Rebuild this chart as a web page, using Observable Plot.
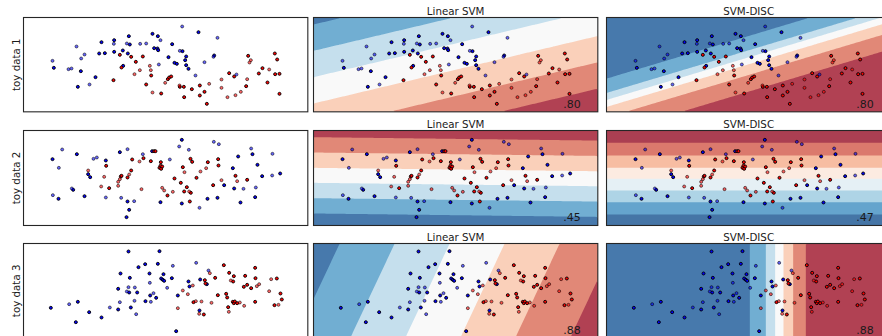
<!DOCTYPE html>
<html><head><meta charset="utf-8">
<script src="https://cdn.jsdelivr.net/npm/d3@7"></script>
<script src="https://cdn.jsdelivr.net/npm/@observablehq/plot@0.6"></script>
<style>
body{margin:0;background:#fff;}
#fig{position:relative;width:882px;height:336px;overflow:hidden;background:#fff;}
</style></head><body><div id="fig"></div>
<script>
// Row labels, column titles, scores
const rowLabels = ["toy data 1", "toy data 2", "toy data 3"];
const titles = ["Linear SVM", "SVM-DISC"];
const scores = [[".80", ".80"], [".45", ".47"], [".88", ".88"]];

// Points: [x1, x2, class]  B/R = training (blue/red), b/r = test
const toy1 = [[155,182,"b"],[159,203,"B"],[203,207,"b"],[212,205,"b"],[227,139,"b"],[241,175,"b"],[251,163,"b"],[240,213,"B"],[231,260,"B"],[266,253,"b"],[284,231,"B"],[302,126,"B"],[295,160,"B"],[312,159,"B"],[340,120,"B"],[339,131,"b"],[340,155,"B"],[338,240,"R"],[357,164,"R"],[362,202,"R"],[367,197,"B"],[366,151,"B"],[378,130,"b"],[384,108,"B"],[387,133,"B"],[381,160,"B"],[391,170,"R"],[405,185,"R"],[401,222,"r"],[417,210,"r"],[418,131,"b"],[426,169,"R"],[436,130,"b"],[436,253,"R"],[447,197,"r"],[450,210,"r"],[451,226,"R"],[455,101,"B"],[460,144,"B"],[471,108,"B"],[470,145,"B"],[472,150,"B"],[479,120,"b"],[474,193,"b"],[455,277,"r"],[481,280,"R"],[493,248,"r"],[501,237,"R"],[505,232,"R"],[511,229,"R"],[503,171,"B"],[514,132,"B"],[521,188,"B"],[528,191,"B"],[537,152,"b"],[544,79,"b"],[545,153,"B"],[556,169,"B"],[553,180,"B"],[556,195,"B"],[563,206,"B"],[536,256,"r"],[537,260,"R"],[549,260,"R"],[550,291,"R"],[573,267,"R"],[584,226,"b"],[593,96,"B"],[597,256,"R"],[597,286,"R"],[611,275,"R"],[611,186,"b"],[618,311,"R"],[625,251,"r"],[638,170,"b"],[640,166,"B"],[650,113,"b"],[662,238,"r"],[662,263,"r"],[680,291,"r"],[685,219,"R"],[700,229,"R"],[707,223,"b"],[704,285,"r"],[720,275,"r"],[736,258,"R"],[739,237,"r"],[742,167,"R"],[746,187,"r"],[750,180,"r"],[774,220,"R"],[785,204,"R"],[800,247,"R"],[805,208,"r"],[822,160,"R"],[823,222,"R"],[829,178,"R"],[836,221,"R"],[836,281,"R"]];

const toy2 = [[155,131,"B"],[156,239,"b"],[174,157,"b"],[173,250,"B"],[184,102,"b"],[213,219,"b"],[217,223,"B"],[228,116,"B"],[251,242,"B"],[262,165,"r"],[262,176,"B"],[268,185,"B"],[278,130,"b"],[288,126,"b"],[301,213,"r"],[310,184,"r"],[315,135,"B"],[316,151,"R"],[315,246,"b"],[325,218,"R"],[352,199,"r"],[352,211,"r"],[357,110,"B"],[357,191,"r"],[360,183,"R"],[362,181,"R"],[361,247,"b"],[380,101,"b"],[380,186,"R"],[385,177,"r"],[380,258,"B"],[385,283,"B"],[377,305,"B"],[391,165,"R"],[394,132,"R"],[400,257,"b"],[416,138,"r"],[422,221,"r"],[426,116,"b"],[428,128,"R"],[450,137,"R"],[454,107,"B"],[460,107,"R"],[464,107,"R"],[476,157,"R"],[479,151,"R"],[480,140,"R"],[481,160,"R"],[484,153,"R"],[479,260,"B"],[484,217,"r"],[490,225,"r"],[500,240,"R"],[507,132,"b"],[516,229,"r"],[521,189,"R"],[535,93,"b"],[540,202,"R"],[543,73,"B"],[543,264,"B"],[546,155,"R"],[551,170,"r"],[550,228,"R"],[558,215,"R"],[564,103,"b"],[565,228,"r"],[570,232,"R"],[567,258,"R"],[569,130,"R"],[574,139,"R"],[587,187,"R"],[596,277,"b"],[599,168,"r"],[616,158,"r"],[620,250,"B"],[621,140,"R"],[639,79,"b"],[654,86,"b"],[637,209,"R"],[650,247,"B"],[652,131,"R"],[653,150,"R"],[662,194,"r"],[670,209,"B"],[696,158,"B"],[700,219,"B"],[704,181,"R"],[709,197,"r"],[712,123,"B"],[719,261,"B"],[728,220,"b"],[739,193,"R"],[751,99,"b"],[755,116,"B"],[763,245,"B"],[765,216,"b"],[770,148,"B"],[784,182,"B"],[815,115,"b"],[814,180,"b"],[838,174,"B"]];

const toy3 = [[150,248,"B"],[205,237,"b"],[231,230,"B"],[225,291,"B"],[265,261,"B"],[302,277,"B"],[327,247,"b"],[352,253,"B"],[352,191,"B"],[357,231,"b"],[359,145,"B"],[378,199,"b"],[383,186,"b"],[385,202,"B"],[383,79,"B"],[387,158,"B"],[390,247,"B"],[402,187,"b"],[401,227,"b"],[406,267,"b"],[409,202,"B"],[413,126,"B"],[433,117,"B"],[434,228,"B"],[446,145,"B"],[447,173,"b"],[448,211,"B"],[450,230,"b"],[458,204,"b"],[466,218,"B"],[471,116,"B"],[476,78,"B"],[481,160,"B"],[486,164,"B"],[488,147,"B"],[490,167,"B"],[499,188,"b"],[513,159,"B"],[516,122,"b"],[526,318,"B"],[531,211,"B"],[531,249,"r"],[546,196,"r"],[561,207,"r"],[563,169,"B"],[566,184,"B"],[576,181,"r"],[578,231,"R"],[585,228,"r"],[586,113,"b"],[596,256,"B"],[598,163,"B"],[595,266,"r"],[602,229,"r"],[609,268,"R"],[612,165,"R"],[614,175,"R"],[618,177,"B"],[623,136,"b"],[627,144,"r"],[632,233,"r"],[643,158,"R"],[651,210,"R"],[669,120,"R"],[676,206,"R"],[679,217,"R"],[682,246,"R"],[684,260,"r"],[685,143,"R"],[690,166,"r"],[697,169,"R"],[696,230,"R"],[699,153,"R"],[699,234,"R"],[702,229,"R"],[709,234,"R"],[717,232,"r"],[729,185,"R"],[730,242,"r"],[733,152,"R"],[739,179,"R"],[751,189,"R"],[763,128,"R"],[764,159,"R"],[763,230,"R"],[768,183,"r"],[775,177,"r"],[805,198,"r"],[811,162,"r"],[828,160,"R"],[821,240,"R"],[833,239,"r"],[839,205,"R"],[843,223,"R"]];

// Feature ranges (mesh extent) per dataset
const xRanges = [[68, 921], [68, 921], [68, 921]];
const yRanges = [[52, 335], [45, 330], [55, 339]];

// Decision functions: F = kx*(x-x0) + ky*(y-y0), contour levels, orientation
const linearFns = [
  {kx: 0.2374, ky: 1, x0: 68, y0: 52, levels: [21, 100, 179, 258, 337, 416], redHigh: true},
  {kx: -0.012, ky: 1, x0: 68, y0: 0, levels: [65, 111, 157, 202, 248, 294], redHigh: false},
  {kx: 1, ky: 0.47, x0: 67, y0: 54, levels: [80, 245, 410, 575, 740, 905], redHigh: true}
];
const discFns = [
  {kx: 0.3, ky: 1, x0: 66, y0: 51, levels: [185, 228, 249, 270, 302, 352], redHigh: true},
  {kx: 0, ky: 1, x0: 0, y0: 0, levels: [82, 120, 157, 190, 225, 260, 297], redHigh: false},
  {kx: 1, ky: 0, x0: 0, y0: 0, levels: [498, 546, 574, 599, 628, 666], redHigh: true}
];

const datasets = [toy1, toy2, toy3];

// matplotlib RdBu
const RDBU = ["#67001f","#b2182b","#d6604d","#f4a582","#fddbc7","#f7f7f7","#d1e5f0","#92c5de","#4393c3","#2166ac","#053061"];
const rdbu = d3.piecewise(d3.interpolateRgb, RDBU);
const bandColor = t => d3.interpolateRgb("#ffffff", rdbu(t))(0.8);

const colLeft = [22.7, 313.3, 605.7];
const rowTop = [17.3, 130, 243.3];
const fig = document.getElementById("fig");
const FONT = "DejaVu Sans";

function panel(r, c) {
  const data = datasets[r];
  const xd = xRanges[r], yd = yRanges[r];
  const w = (xd[1] - xd[0]) / 3, h = (yd[1] - yd[0]) / 3;
  const mL = c === 0 ? 24 : 1, mT = 18, mR = 2, mB = 2;
  const marks = [];
  let color = undefined;
  if (c > 0) {
    const fn = (c === 1 ? linearFns : discFns)[r];
    const F = (x, y) => fn.kx * (x - fn.x0) + fn.ky * (y - fn.y0);
    const N = fn.levels.length + 1;
    const colors = d3.range(N).map(i => bandColor(fn.redHigh ? 1 - (i + 0.5) / N : (i + 0.5) / N));
    color = {type: "threshold", domain: fn.levels, range: colors};
    marks.push(Plot.frame({fill: colors[0], stroke: "none"}));
    marks.push(Plot.contour({fill: F, x1: xd[0], x2: xd[1], y1: yd[0], y2: yd[1], thresholds: fn.levels, stroke: "none"}));
  }
  const pick = k => data.filter(d => d[2] === k);
  const dotOpts = (fill, op) => ({x: d => d[0], y: d => d[1], r: 1.5, fill, stroke: "black", strokeWidth: 0.9, fillOpacity: op, strokeOpacity: op});
  marks.push(Plot.dot(pick("B"), dotOpts("#0000ff", 1)));
  marks.push(Plot.dot(pick("R"), dotOpts("#ff0000", 1)));
  marks.push(Plot.dot(pick("b"), dotOpts("#0000ff", 0.6)));
  marks.push(Plot.dot(pick("r"), dotOpts("#ff0000", 0.6)));
  marks.push(Plot.frame({stroke: "#262626", strokeWidth: 1.1}));
  if (c > 0) {
    marks.push(Plot.text([titles[c - 1]], {text: d => d, frameAnchor: "top", lineAnchor: "bottom", dy: -2.5, fontSize: 10.3, fill: "#1a1a1a"}));
    marks.push(Plot.text([scores[r][c - 1]], {text: d => d, frameAnchor: "bottom-right", textAnchor: "end", lineAnchor: "bottom", dx: -17, dy: -4, fontSize: 11, fill: "#1a1a1a"}));
  } else {
    marks.push(Plot.text([rowLabels[r]], {text: d => d, frameAnchor: "left", rotate: -90, textAnchor: "middle", lineAnchor: "bottom", dx: -3.5, fontSize: 10.3, fill: "#1a1a1a"}));
  }
  const svg = Plot.plot({
    width: mL + w + mR, height: mT + h + mB,
    marginLeft: mL, marginTop: mT, marginRight: mR, marginBottom: mB,
    x: {domain: xd, axis: null},
    y: {domain: yd, reverse: true, axis: null},
    color,
    marks,
    style: {position: "absolute", left: (colLeft[c] - mL) + "px", top: (rowTop[r] - mT) + "px", background: "transparent", fontFamily: FONT, overflow: "visible", maxWidth: "none"}
  });
  fig.appendChild(svg);
}

for (let r = 0; r < 3; r++) for (let c = 0; c < 3; c++) panel(r, c);
</script></body></html>
